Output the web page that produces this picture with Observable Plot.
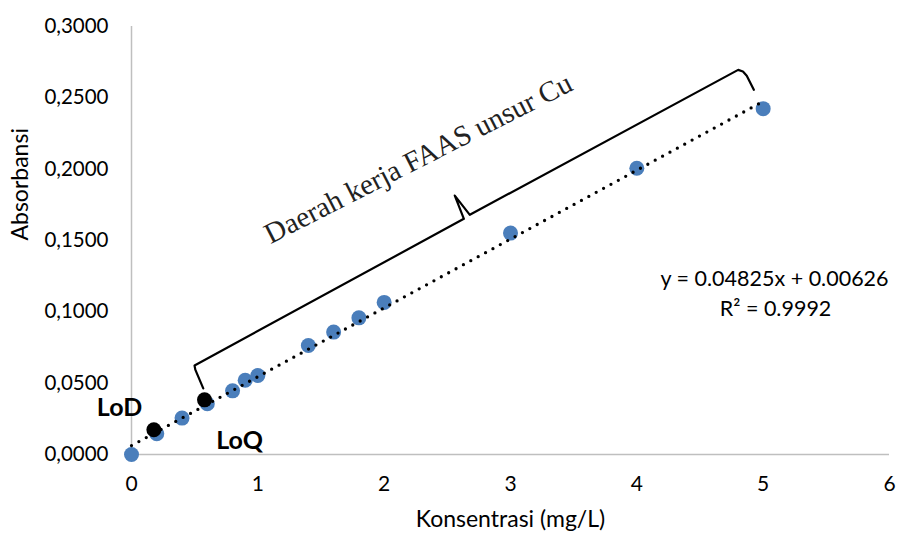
<!DOCTYPE html>
<html>
<head>
<meta charset="utf-8">
<script src="https://cdn.jsdelivr.net/npm/d3@7"></script>
<script src="https://cdn.jsdelivr.net/npm/@observablehq/plot@0.6"></script>
<style>
  html, body { margin: 0; padding: 0; background: #fff; }
  #chart { width: 899px; height: 536px; }
</style>
</head>
<body>
<div id="chart"></div>
<script>
// Calibration data (concentration mg/L vs absorbance)
const concentrations = [0, 0.2, 0.4, 0.6, 0.8, 0.9, 1.0, 1.4, 1.6, 1.8, 2.0, 3.0, 4.0, 5.0];
const absorbances   = [0, 0.0145, 0.0255, 0.0356, 0.0446, 0.052, 0.0554, 0.0764, 0.0858, 0.0958, 0.1066, 0.1552, 0.2006, 0.2424];

// Detection / quantitation limits
const limitNames = ["LoD", "LoQ"];
const limitX = [0.177, 0.578];
const limitY = [0.0173, 0.0383];

// Linear trendline  y = 0.04825x + 0.00626
const slope = 0.04825;
const intercept = 0.00626;
const trendX = [0, 5];
const equationLines = ["y = 0.04825x + 0.00626", "R² = 0.9992"];

// Ticks
const xTicks = [0, 1, 2, 3, 4, 5, 6];
const yTicks = [0, 0.05, 0.10, 0.15, 0.20, 0.25, 0.30];

// Brace annotation ("Daerah kerja FAAS unsur Cu") in data coordinates
const braceX = [0.568, 0.505, 0.499, 2.631, 2.559, 2.678, 4.802, 4.840, 4.870, 4.926];
const braceY = [0.0463, 0.0595, 0.0624, 0.1652, 0.1815, 0.1680, 0.2696, 0.2685, 0.2655, 0.2556];
const braceLabel = "Daerah kerja FAAS unsur Cu";

const trend = trendX.map(x => ({x, y: slope * x + intercept}));
const points = concentrations.map((x, i) => ({x, y: absorbances[i]}));
const limits = limitNames.map((name, i) => ({name, x: limitX[i], y: limitY[i]}));
const brace = braceX.map((x, i) => ({x, y: braceY[i]}));

const fmt = d => d.toFixed(4).replace(".", ",");

const chart = Plot.plot({
  width: 899,
  height: 536,
  marginLeft: 131,
  marginRight: 10,
  marginTop: 26,
  marginBottom: 82,
  style: {fontFamily: "Lato, sans-serif", fontSize: "20px", color: "#000", background: "#fff", overflow: "visible"},
  x: {domain: [0, 6]},
  y: {domain: [0, 0.3]},
  marks: [
    Plot.ruleX([0], {y1: 0, y2: 0.3, stroke: "#bfbfbf", strokeWidth: 1.5}),
    Plot.ruleY([0], {x1: 0, x2: 6, stroke: "#bfbfbf", strokeWidth: 1.5}),
    Plot.axisX({ticks: xTicks, tickSize: 0, tickPadding: 22, label: null, fontSize: 21, tickFormat: d => String(d)}),
    Plot.axisY({ticks: yTicks, tickSize: 0, tickPadding: 23, label: null, fontSize: 20.5, tickFormat: fmt}),
    Plot.text(["Absorbansi"], {frameAnchor: "left", dx: -111, rotate: -90, fontSize: 23, fill: "#000"}),
    Plot.text(["Konsentrasi (mg/L)"], {frameAnchor: "bottom", dy: 72, fontSize: 23, fill: "#000"}),
    Plot.dot(points, {x: "x", y: "y", r: 7.5, fill: "#4a7ebb", stroke: "none"}),
    Plot.dot(limits, {x: "x", y: "y", r: 7.5, fill: "#000", stroke: "none"}),
    Plot.line(trend, {x: "x", y: "y", stroke: "#000", strokeWidth: 3.3, strokeDasharray: "0,8.4", strokeLinecap: "round"}),
    Plot.line(brace, {x: "x", y: "y", stroke: "#000", strokeWidth: 2.2, strokeLinejoin: "round"}),
    Plot.text([braceLabel], {x: [2.27], y: [0.2075], rotate: -27, fontFamily: "Liberation Serif, serif", fontSize: 29, fill: "#222"}),
    Plot.text(limits, {x: d => d.name === "LoD" ? -0.095 : 0.855, y: d => d.name === "LoD" ? 0.0326 : 0.0095, text: "name", fontWeight: "bold", fontSize: 25, fill: "#000"}),
    Plot.text(equationLines, {x: [5.09, 5.098], y: [0.1226, 0.1016], text: d => d, fontSize: 21.5, fill: "#000"})
  ]
});
document.getElementById("chart").appendChild(chart);
</script>
</body>
</html>
